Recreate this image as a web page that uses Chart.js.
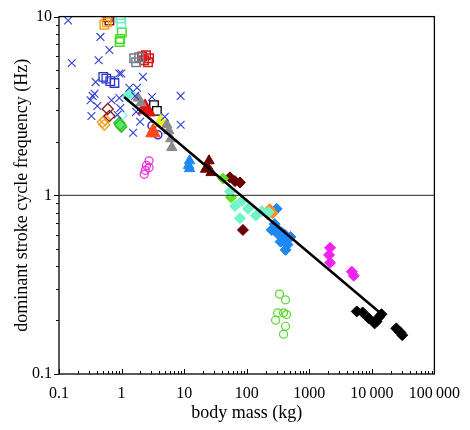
<!DOCTYPE html>
<html>
<head>
<meta charset="utf-8">
<script src="https://cdn.jsdelivr.net/npm/chart.js@4.4.0/dist/chart.umd.min.js"></script>
<style>
  html, body { margin: 0; padding: 0; background: #fff; }
</style>
</head>
<body>
<canvas id="chart" width="470" height="430"></canvas>
<script>
// axis ticks
const xTicks = [0.1, 1, 10, 100, 1000, 10000, 100000];
const xTickLabels = ['0.1', '1', '10', '100', '1000', '10\u2009000', '100\u2009000'];
const yTicks = [0.1, 1, 10];
const yTickLabels = ['0.1', '1', '10'];

// [body mass (kg), dominant stroke cycle frequency (Hz)]
const blueCross = [[0.14, 9.5], [0.46, 7.7], [0.64, 6.5], [0.16, 5.5], [0.43, 5.7], [0.92, 4.8], [0.99, 4.8],
    [2.2, 4.6], [0.385, 4.3], [1.33, 4.0], [1.77, 4.0], [0.37, 3.7], [0.345, 3.6], [0.32, 3.4], [0.41, 3.16],
    [0.33, 2.78], [0.92, 3.5], [0.955, 3.08], [0.86, 2.82], [1.65, 3.6], [1.71, 2.93], [1.53, 2.24],
    [1.98, 2.58], [3.06, 3.55], [8.8, 3.6], [8.8, 2.48], [4.9, 2.75], [0.69, 3.4]];
const blueSquare = [[0.51, 4.6], [0.57, 4.5], [0.66, 4.35], [0.77, 4.25]];
const orangeSquare = [[0.53, 9.0], [0.58, 9.3]];
const brownSquare = [[0.6, 9.9], [0.64, 9.5]];
const aquaSquare = [[0.96, 9.75], [0.99, 9.15]];
const limeSquare = [[1.01, 8.15], [0.95, 7.5], [0.93, 7.2]];
const graySquare = [[1.59, 5.84], [1.71, 5.55], [1.91, 5.92]];
const redSquare = [[2.13, 5.99], [2.46, 6.07], [2.75, 5.84], [2.65, 5.55], [2.29, 5.7]];
const whiteSquare = [[3.3, 3.2], [3.67, 2.97]];
const brownDiamond = [[0.6, 3.04], [0.64, 2.78]];
const orangeDiamond = [[0.55, 2.64], [0.53, 2.48], [0.5, 2.57]];
const greenDiamond = [[0.92, 2.54], [0.99, 2.42], [0.95, 2.48]];
const cyanDiamond = [[1.01, 2.8]];
const aquaDiamond = [[1.23, 3.59], [1.37, 3.73], [54, 1.05], [84, 0.93], [105, 0.84], [78, 0.745],
    [140, 0.77], [174, 0.815], [225, 0.805], [65, 0.87]];
const limeDiamond = [[42, 1.24], [56, 0.975]];
const maroonDiamond = [[54, 1.26], [65, 1.2], [78, 1.18], [87, 0.64]];
const darkOrangeDiamond = [[233, 0.836], [260, 0.794], [217, 0.784]];
const dodgerDiamond = [[251, 0.64], [280, 0.69], [312, 0.61], [361, 0.62], [403, 0.57], [449, 0.53],
    [418, 0.495], [348, 0.55], [301, 0.84], [501, 0.585]];
const purpleDiamond = [[290, 0.664], [403, 0.607]];
const magentaDiamond = [[2148, 0.508], [2070, 0.464], [2148, 0.419], [4786, 0.374], [5140, 0.355]];
const blackDiamond = [[5740, 0.224], [7140, 0.221], [8890, 0.205], [11070, 0.192], [12800, 0.207],
    [14260, 0.216], [11890, 0.197], [24600, 0.18], [28500, 0.171], [30600, 0.165]];
const maroonTriangle = [[25, 1.56], [24, 1.43], [27, 1.34], [22, 1.4]];
const dodgerTriangle = [[12.2, 1.56], [11.8, 1.47], [12.2, 1.41]];
const grayTriangle = [[1.84, 3.5], [2.05, 3.29], [5.29, 2.48], [5.69, 2.3], [6.12, 2.07], [6.35, 1.85]];
const redTriangle = [[2.37, 3.2], [2.55, 3.04], [2.85, 2.89], [2.21, 2.97]];
const orangeRedTriangle = [[2.95, 2.21], [3.42, 2.21], [3.18, 2.33]];
const yellowTriangle = [[3.95, 2.54], [4.25, 2.64]];
const violetCircle = [[3.06, 2.45], [3.81, 2.18]];
const magentaCircle = [[2.75, 1.56], [2.5, 1.47], [2.75, 1.43], [2.4, 1.38], [2.3, 1.31]];
const limeCircle = [[335, 0.28], [417, 0.26], [312, 0.22], [388, 0.22], [433, 0.215], [290, 0.2],
    [417, 0.185], [388, 0.167]];

// fitted scaling line and the 1 Hz reference line
const fitMass = [1.1, 14000];
const fitFreq = [3.55, 0.218];
const refMass = [0.1, 100000];
const refFreq = [1, 1];

const serif = "'Liberation Serif', 'Times New Roman', serif";

function pts(arr) {
    return arr.map(p => ({ x: p[0], y: p[1] }));
}

function markers(arr, style, radius, color, fill, width) {
    return {
        type: 'scatter',
        data: pts(arr),
        pointStyle: style,
        pointRadius: radius,
        pointHoverRadius: radius,
        borderColor: color,
        backgroundColor: fill,
        borderWidth: width === undefined ? 1 : width,
        order: 2,
    };
}

function line(xs, ys, width, color, order) {
    return {
        type: 'line',
        data: xs.map((x, i) => ({ x, y: ys[i] })),
        borderColor: color,
        borderWidth: width,
        pointRadius: 0,
        fill: false,
        order: order,
    };
}

const none = 'rgba(0,0,0,0)';

const datasets = [
    line(fitMass, fitFreq, 2.5, '#000', 0),
    line(refMass, refFreq, 1, '#222', 1),
    markers(blueCross, 'crossRot', 5.5, '#2f3fd6', none, 1.1),
    markers(blueSquare, 'rect', 6, '#2a36c8', none, 1.3),
    markers(orangeSquare, 'rect', 6, '#f2a21e', none, 1.5),
    markers(brownSquare, 'rect', 6, '#8a1a1a', none, 1.5),
    markers(aquaSquare, 'rect', 6, '#6ff0c4', none, 1.5),
    markers(limeSquare, 'rect', 6, '#48dc22', none, 1.5),
    markers(graySquare, 'rect', 6, '#6d7f8c', none, 1.5),
    markers(redSquare, 'rect', 6, '#d81818', none, 1.5),
    markers(brownDiamond, 'rectRot', 5.5, '#8a1a1a', none, 1.3),
    markers(orangeDiamond, 'rectRot', 5.5, '#f2a21e', none, 1.3),
    markers(greenDiamond, 'rectRot', 5.5, '#2fbf2f', '#5ee85e', 1.3),
    markers(cyanDiamond, 'rectRot', 5, '#7ee6ff', none, 1.2),
    markers(aquaDiamond, 'rectRot', 5.5, '#6ff5c8', '#6ff5c8', 1),
    markers(limeDiamond, 'rectRot', 5.5, '#5ee21a', '#5ee21a', 1),
    markers(maroonDiamond, 'rectRot', 5.5, '#6a0000', '#6a0000', 1),
    markers(maroonTriangle, 'triangle', 6, '#6a0000', '#6a0000', 1),
    markers(dodgerTriangle, 'triangle', 6, '#1e88f5', '#1e88f5', 1),
    markers(grayTriangle, 'triangle', 6, '#8a8a8a', '#8a8a8a', 1),
    markers(redTriangle, 'triangle', 6, '#e81010', '#e81010', 1),
    markers(orangeRedTriangle, 'triangle', 6, '#ff4a1e', '#ff4a1e', 1),
    markers(yellowTriangle, 'triangle', 6, '#eeee22', '#eeee22', 1),
    markers(whiteSquare, 'rect', 6, '#000', '#fff', 1.3),
    markers(violetCircle, 'circle', 4, '#3a2ad0', none, 1.5),
    markers(magentaCircle, 'circle', 4, '#ee2ad8', none, 1.2),
    markers(darkOrangeDiamond, 'rectRot', 5.5, '#ff8a22', '#ff8a22', 1),
    markers(dodgerDiamond, 'rectRot', 5.5, '#1e88f5', '#1e88f5', 1),
    markers(purpleDiamond, 'rectRot', 5, '#8a2ef0', '#8a2ef0', 1),
    markers(magentaDiamond, 'rectRot', 5.5, '#ee22ee', '#ee22ee', 1),
    markers(blackDiamond, 'rectRot', 5.5, '#000', '#000', 1),
    markers(limeCircle, 'circle', 4, '#55d928', none, 1.2),
];

// frame box and log tick marks (bottom ticks point inward, left ticks outward)
const frameAndTicks = {
    id: 'frameAndTicks',
    afterDraw(chart) {
        const { ctx, chartArea: a, scales } = chart;
        ctx.save();
        ctx.strokeStyle = '#000';
        ctx.lineWidth = 1.3;
        ctx.strokeRect(a.left, a.top, a.right - a.left, a.bottom - a.top);
        ctx.lineWidth = 1;
        ctx.beginPath();
        for (let d = 0.1; d < 100001; d *= 10) {
            for (let k = 1; k < 10; k++) {
                const v = k * d;
                if (v > 100001) break;
                const px = Math.round(scales.x.getPixelForValue(v)) + 0.5;
                const len = k === 1 ? 5 : 3;
                ctx.moveTo(px, a.bottom);
                ctx.lineTo(px, a.bottom - len);
            }
        }
        for (let d = 0.1; d < 11; d *= 10) {
            for (let k = 1; k < 10; k++) {
                const v = k * d;
                if (v > 10.01) break;
                const py = Math.round(scales.y.getPixelForValue(v)) + 0.5;
                const len = k === 1 ? 5 : 3;
                ctx.moveTo(a.left, py);
                ctx.lineTo(a.left - len, py);
            }
        }
        ctx.stroke();
        ctx.restore();
    }
};

new Chart(document.getElementById('chart'), {
    type: 'scatter',
    data: { datasets },
    options: {
        responsive: false,
        animation: false,
        events: [],
        layout: { padding: { left: 0, right: 32, top: 13, bottom: 0 } },
        plugins: {
            legend: { display: false },
            tooltip: { enabled: false },
        },
        scales: {
            x: {
                type: 'logarithmic',
                min: 0.1,
                max: 100000,
                afterFit: s => { s.height = 56; },
                afterBuildTicks: s => { s.ticks = xTicks.map(v => ({ value: v })); },
                border: { display: false },
                grid: { display: false, drawTicks: false },
                ticks: {
                    autoSkip: false,
                    maxRotation: 0,
                    padding: 10,
                    color: '#000',
                    font: { family: serif, size: 16 },
                    callback: (v, i) => xTickLabels[i],
                },
                title: {
                    display: true,
                    text: 'body mass (kg)',
                    color: '#000',
                    font: { family: serif, size: 18 },
                    padding: { top: 0, bottom: 6 },
                },
            },
            y: {
                type: 'logarithmic',
                min: 0.1,
                max: 10,
                afterFit: s => { s.width = 59; },
                afterBuildTicks: s => { s.ticks = yTicks.map(v => ({ value: v })); },
                border: { display: false },
                grid: { display: false, drawTicks: false },
                ticks: {
                    autoSkip: false,
                    padding: 7,
                    color: '#000',
                    font: { family: serif, size: 16 },
                    callback: (v, i) => yTickLabels[i],
                },
                title: {
                    display: true,
                    text: 'dominant stroke cycle frequency (Hz)',
                    color: '#000',
                    font: { family: serif, size: 18 },
                    padding: { top: 11, bottom: 0 },
                },
            },
        },
    },
    plugins: [frameAndTicks],
});
</script>
</body>
</html>
